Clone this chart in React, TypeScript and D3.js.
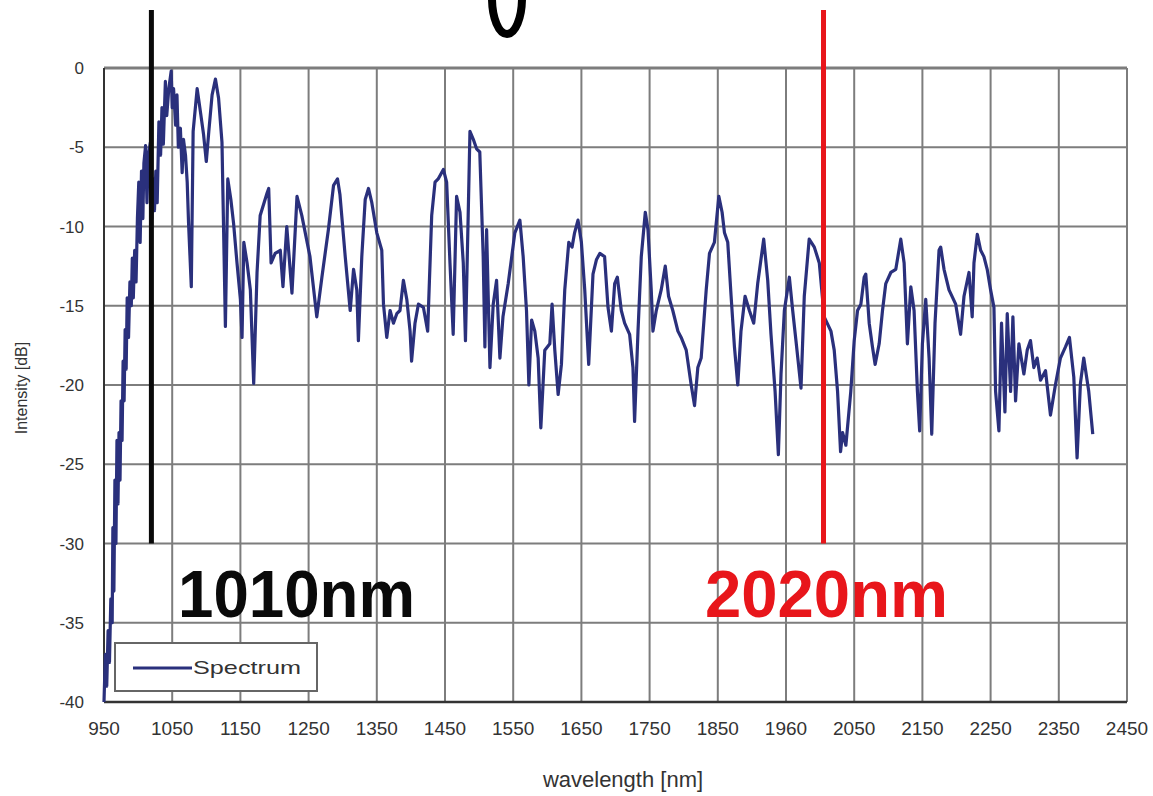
import React from "react";
import * as d3 from "d3";

// rising edge and first peak group (950-1070 nm)
const wavelengthsHead: number[] = [
  950, 952, 954, 956, 958, 960, 962, 963, 964.5, 966, 967.5, 969, 970.5, 972, 973.5, 975, 976.5, 978, 979.5, 981,
  982.5, 984, 986, 988, 990, 991.5, 993, 995, 997, 999, 1001, 1003, 1005, 1007, 1008.5, 1011, 1013, 1015, 1018, 1020,
  1022, 1024, 1026, 1028, 1030.5, 1033, 1035, 1037, 1040, 1042, 1045, 1048.5, 1050, 1052, 1055, 1057, 1059, 1062,
  1064.6, 1066.5, 1069.5,
];
const intensitiesHead: number[] = [
  -40, -37, -39, -35.5, -37.5, -33.5, -35, -29, -33, -26, -30, -23.5, -27.5, -23, -26, -21, -23.5, -18.5, -21, -16.5,
  -19, -14.5, -17, -13.5, -15, -12, -14.5, -11.5, -13.5, -9.5, -7.2, -11, -6.5, -9.5, -6, -4.9, -8.5, -5.5, -4.7, -9.5,
  -7, -9, -6.5, -8.5, -3.4, -5.5, -2.5, -4.8, -0.85, -3, -1.3, -0.2, -2.5, -1.3, -3.6, -1.7, -5, -3.8,
  -6.6, -4.5, -5.5,
];

// remainder of the spectrum (1072-2400 nm)
const wavelengthsTail: number[] = [
  1072, 1074, 1078, 1080.7, 1086.6, 1091.5, 1096, 1100, 1103.7,
  1108.5, 1113.4, 1118, 1123, 1128, 1131.5, 1136, 1140, 1145, 1150, 1152.4, 1155, 1159.8, 1164.6, 1169.5,
  1174.4, 1179, 1189, 1191.5, 1195, 1201, 1208.5, 1212.4, 1218, 1225.6, 1233, 1240, 1252, 1262, 1269.5,
  1279, 1286.6, 1292.4, 1296, 1303.7, 1311, 1315.9, 1320.7, 1323, 1328, 1333, 1337.8, 1342.7, 1350,
  1357.3, 1359.8, 1364.6, 1369.5, 1374.4, 1379.3, 1384, 1389, 1394, 1398.8, 1401, 1406, 1411, 1418.3,
  1424.6, 1430.5, 1435.4, 1440, 1447.6, 1452.4, 1457.3, 1462, 1467, 1472, 1476.8, 1480, 1484, 1486.6,
  1491.5, 1496.3, 1501, 1506, 1508.5, 1511, 1515.9, 1520.7, 1525.6, 1530.5, 1535, 1542.7, 1552.4, 1559.8,
  1564.6, 1569.5, 1573, 1577, 1581.7, 1586.6, 1590.5, 1596.3, 1603.7, 1607, 1611, 1615.9, 1620.7, 1625.6,
  1631.5, 1636.3, 1640, 1645, 1650, 1654.9, 1660.7, 1667, 1672, 1677, 1684, 1689, 1694, 1698.8, 1702.7,
  1708.5, 1713.4, 1720.7, 1725.6, 1728, 1733, 1737.8, 1743.7, 1747.6, 1752.4, 1754.9, 1759.8, 1767, 1773,
  1777.8, 1784, 1791.5, 1796.3, 1803.7, 1811, 1815.9, 1820.7, 1825.6, 1833, 1837.8, 1845, 1851.5, 1856.3,
  1859.8, 1864.6, 1869.5, 1874.4, 1879.3, 1884, 1890, 1896.3, 1902.7, 1908.5, 1917.3, 1923.2, 1928, 1934,
  1938.8, 1942.7, 1947.6, 1954.9, 1959.8, 1964.6, 1972, 1976.8, 1984, 1991.5, 1998.8, 2006, 2015.9,
  2020.7, 2025.6, 2030, 2033, 2037.8, 2045, 2050, 2054.9, 2059.8, 2064.6, 2067, 2072, 2076.8, 2080.7,
  2086.6, 2091.5, 2096.3, 2103.7, 2111, 2118.3, 2123.2, 2128, 2133, 2137.8, 2142.7, 2146, 2150, 2154.9,
  2159.8, 2163.7, 2168.5, 2174.4, 2176.8, 2181.7, 2189, 2198.8, 2206, 2211, 2218.3, 2223, 2225.6, 2230.5,
  2235.4, 2240.2, 2245, 2250, 2254.9, 2257.3, 2262.2, 2266, 2271, 2274.4, 2279.3, 2282.7, 2286.6, 2291.5,
  2298.8, 2303.7, 2308.5, 2313.4, 2318.3, 2323.2, 2330.5, 2337.8, 2345, 2352.4, 2359.8, 2365.6, 2372,
  2376.8, 2381.7, 2386.6, 2393.9, 2399.8,
];
const intensitiesTail: number[] = [
  -7.2, -9.8, -13.8, -4.0, -1.3, -2.8, -4.2, -5.9, -4.0,
  -1.7, -0.7, -1.9, -4.7, -16.3, -7.0, -8.3, -9.8, -12.3, -14.6, -17.0, -11.0, -12.3, -14.0, -19.9,
  -12.9, -9.3, -7.9, -7.6, -12.3, -11.7, -11.5, -13.8, -10.0, -14.2, -8.1, -9.3, -11.9, -15.7, -13.2,
  -10.2, -7.4, -7.0, -8.0, -11.9, -15.3, -12.7, -14.0, -17.2, -11.9, -8.3, -7.6, -8.5, -10.4,
  -11.5, -14.9, -17.0, -15.3, -16.1, -15.5, -15.3, -13.4, -14.6, -16.6, -18.5, -16.1, -14.9, -15.1,
  -16.6, -9.3, -7.2, -7.0, -6.4, -7.2, -12.3, -16.8, -8.1, -9.1, -12.3, -17.2, -9.3, -4.0,
  -4.5, -5.1, -5.3, -11.9, -17.6, -10.2, -18.9, -14.9, -13.4, -18.3, -15.7, -13.6, -10.4, -9.6,
  -11.9, -15.3, -20.0, -15.9, -16.6, -18.3, -22.7, -17.8, -17.4, -14.9, -17.8, -20.6, -18.7, -14.0,
  -11.0, -11.3, -10.4, -9.6, -11.0, -14.0, -18.7, -13.0, -12.1, -11.7, -11.9, -15.1, -16.6, -13.6, -13.2,
  -15.3, -16.1, -16.8, -18.9, -22.3, -16.6, -11.9, -9.1, -10.2, -14.0, -16.6, -15.3, -14.0, -12.5,
  -14.4, -15.3, -16.6, -17.0, -17.8, -20.0, -21.3, -18.9, -18.3, -14.0, -11.7, -11.0, -8.1, -9.1,
  -10.4, -11.0, -14.4, -17.6, -20.0, -16.6, -14.4, -15.3, -16.1, -13.6, -10.8, -13.4, -16.8, -20.4,
  -24.4, -19.3, -15.3, -13.2, -15.3, -17.2, -20.2, -14.4, -10.8, -11.3, -12.3, -15.7, -16.6,
  -17.8, -20.4, -24.2, -23.0, -23.8, -20.4, -17.2, -15.3, -14.9, -13.2, -13.0, -16.1, -17.6, -18.7,
  -17.4, -15.3, -13.6, -12.9, -12.7, -10.8, -12.3, -17.4, -13.8, -15.3, -20.4, -22.9, -17.4, -14.6,
  -18.3, -23.1, -16.1, -11.5, -11.3, -12.7, -14.0, -14.9, -16.8, -14.4, -12.9, -15.7, -12.3, -10.5,
  -11.5, -11.9, -12.7, -14.0, -15.1, -20.4, -22.9, -16.1, -21.7, -15.5, -20.4, -15.7, -21.0, -17.4,
  -19.3, -17.8, -17.2, -18.9, -18.3, -19.7, -19.1, -21.9, -20.0, -18.3, -17.6, -17.0, -19.5,
  -24.6, -19.9, -18.3, -20.4, -23.1,
];

const xTicks: number[] = [950, 1050, 1150, 1250, 1350, 1450, 1550, 1650, 1750, 1850, 1950, 2050, 2150, 2250, 2350, 2450];
const xTickLabels: string[] = ["950", "1050", "1150", "1250", "1350", "1450", "1550", "1650", "1750", "1850", "1960", "2050", "2150", "2250", "2350", "2450"];
const yTicks: number[] = [0, -5, -10, -15, -20, -25, -30, -35, -40];

const markerWavelengths: number[] = [1019.5, 2005];
const markerLabels: string[] = ["1010nm", "2020nm"];
const markerColors: string[] = ["#0a0a0a", "#e8161b"];

export default function App() {
  const W = 1153, H = 796;
  const x = d3.scaleLinear().domain([950, 2450]).range([104, 1127]);
  const y = d3.scaleLinear().domain([0, -40]).range([68, 702]);
  const wls = wavelengthsHead.concat(wavelengthsTail);
  const dbs = intensitiesHead.concat(intensitiesTail);
  const pts = wls.map((w, i) => [w, dbs[i]] as [number, number]);
  const line = d3.line<[number, number]>().x(d => x(d[0])).y(d => y(d[1]));
  const grid = "#7d7d7d";
  const navy = "#2a307c";
  const fontNarrow = "'Liberation Sans Narrow', 'Liberation Sans', Arial, sans-serif";
  const labelX = [178, 705];
  const labelW = [237, 243];
  return (
    <svg width={W} height={H} style={{ position: "absolute", left: 0, top: 0, background: "#fff" }}>
      <rect x={0} y={0} width={W} height={H} fill="#fff" />
      {/* partial glyph at top */}
      <ellipse cx={507} cy={-2} rx={15} ry={36} fill="none" stroke="#000" strokeWidth={8} />
      {/* grid */}
      {xTicks.map(t => (
        <line key={"gx" + t} x1={x(t)} x2={x(t)} y1={y(0)} y2={y(-40)} stroke={grid} strokeWidth={2} />
      ))}
      {yTicks.map(t => (
        <line key={"gy" + t} x1={x(950)} x2={x(2450)} y1={y(t)} y2={y(t)} stroke={grid} strokeWidth={t === 0 ? 3 : 2} />
      ))}
      <line x1={x(950)} x2={x(950)} y1={y(0)} y2={y(-40)} stroke="#333" strokeWidth={2} />
      <line x1={x(950)} x2={x(2450)} y1={y(-40)} y2={y(-40)} stroke="#333" strokeWidth={2.5} />
      {/* y tick labels */}
      {yTicks.map(t => (
        <text key={"ty" + t} x={84} y={y(t) + 6} textAnchor="end" fontFamily={fontNarrow} fontSize={17} fill="#333">
          {t === 0 ? "0" : String(t)}
        </text>
      ))}
      {/* x tick labels */}
      {xTicks.map((t, i) => (
        <text key={"tx" + t} x={x(t)} y={735} textAnchor="middle" fontFamily={fontNarrow} fontSize={19} fill="#333">
          {xTickLabels[i]}
        </text>
      ))}
      <text x={623} y={787} textAnchor="middle" fontFamily={fontNarrow} fontSize={22} fill="#333">wavelength [nm]</text>
      <text transform="translate(27,388) rotate(-90)" textAnchor="middle" fontFamily={fontNarrow} fontSize={16} fill="#333">Intensity [dB]</text>
      {/* spectrum */}
      <path d={line(pts) || ""} fill="none" stroke={navy} strokeWidth={3.2} strokeLinejoin="round" />
      {/* marker lines */}
      {markerWavelengths.map((m, i) => (
        <line key={"m" + i} x1={x(m)} x2={x(m)} y1={10} y2={y(-30)} stroke={markerColors[i]} strokeWidth={5} />
      ))}
      {markerLabels.map((lab, i) => (
        <text key={"ml" + i} x={labelX[i]} y={617} fontFamily="'Liberation Sans', Arial, sans-serif" fontWeight="bold" fontSize={66} textLength={labelW[i]} lengthAdjust="spacingAndGlyphs" fill={markerColors[i]}>{lab}</text>
      ))}
      {/* legend */}
      <rect x={115} y={643} width={202} height={48} fill="#fff" stroke="#666" strokeWidth={2} />
      <line x1={133} x2={192} y1={668} y2={668} stroke={navy} strokeWidth={3} />
      <text x={193} y={674} fontFamily={fontNarrow} fontSize={19} textLength={108} lengthAdjust="spacingAndGlyphs" fill="#333">Spectrum</text>
    </svg>
  );
}
